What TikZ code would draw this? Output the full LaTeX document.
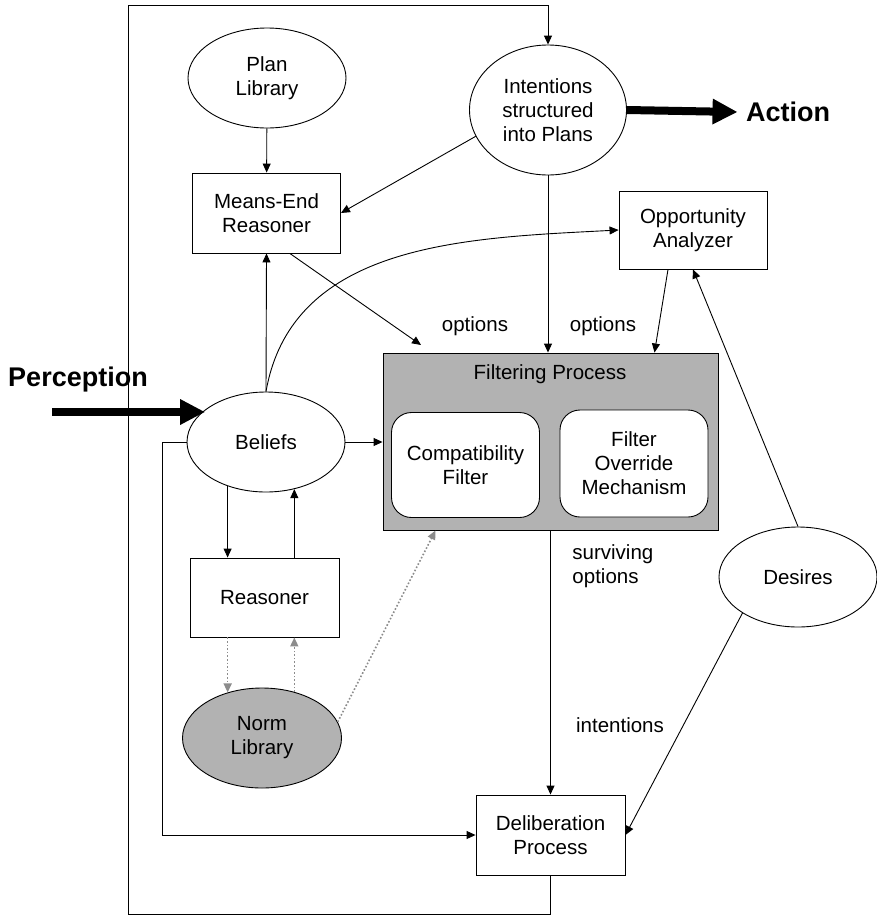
\documentclass[tikz,border=0pt]{standalone}
\usepackage{fontspec}
\setmainfont{Liberation Sans}
\usetikzlibrary{positioning,calc,arrows.meta,shapes.geometric}
\tikzset{font=\fontsize{20.5}{24}\selectfont}

\begin{document}
\begin{tikzpicture}[x=1pt,y=1pt,line width=0.9pt]
	\tikzstyle{every node}=[align=center, inner sep=1pt]
	\tikzstyle{oval}=[draw, ellipse, minimum width=158pt, minimum height=100pt]
	\tikzstyle{box}=[draw, minimum width=148pt, minimum height=79pt]
	\tikzstyle{inbox}=[draw, fill=white, rounded corners=20pt, minimum width=148pt, minimum height=105pt]
	\tikzstyle{arr}=[-{Triangle[length=9pt,width=8pt]}]
	\tikzstyle{big}=[line width=8pt, -{Triangle[length=25pt,width=24pt]}]
	\tikzstyle{dots}=[black!45, line width=1.6pt, dash pattern=on 1.6pt off 2pt, -{Triangle[length=9pt,width=8pt]}]
	\tikzstyle{bold}=[font=\bfseries\fontsize{27}{30}\selectfont]
	\useasboundingbox (0,0) rectangle (877,-916);

	\node[oval] (plib) at (267,-78) {Plan\\Library};
	\node[oval, minimum width=157pt, minimum height=130pt] (intent) at (548,-110) {Intentions\\structured\\into Plans};
	\node[bold, inner sep=8pt] (act) at (788,-112) {Action};
	\node[box, minimum height=80pt] (mer) at (266.5,-213) {Means-End\\Reasoner};
	\node[box, minimum height=78pt] (opp) at (693,-230) {Opportunity\\Analyzer};

	\node[draw, fill=black!30, minimum width=335pt, minimum height=177pt] (filt) at (550.5,-441.5) {};
	\node (ftitle) at (550,-374) {Filtering Process};
	\node[inbox] (compat) at (465.5,-465) {Compatibility\\Filter};
	\node[inbox, minimum height=107pt] (fom) at (634,-463.5) {Filter\\Override\\Mechanism};

	\node[bold] (perc) at (78,-380) {Perception};
	\coordinate (pin) at (52,-412);
	\node[oval] (bel) at (266,-442) {Beliefs};
	\node[box, minimum width=149pt] (reas) at (264.5,-597.5) {Reasoner};
	\node[oval, fill=black!30, minimum width=159pt] (norm) at (262,-738) {Norm\\Library};
	\node[oval] (des) at (798,-577) {Desires};
	\node[box, minimum width=149pt, minimum height=80pt] (delib) at (550.5,-835) {Deliberation\\Process};

	\node (opt1) at (475,-326) {options};
	\node (opt2) at (603,-326) {options};
	\node[anchor=west, align=left] (surv) at (571,-566) {surviving\\options};
	\node (intl) at (620,-725) {intentions};
	\coordinate (optin) at (421,-345);
	\coordinate (ltop) at (128,-5);
	\coordinate (lbot) at (128,-914);

	% top part
	\draw [arr] (plib) -- (mer);
	\draw [arr] (intent.200) -- (mer.east);
	\draw [arr] (intent.south) -- (intent.south |- filt.north);
	\draw [big] (intent.east) -- (act.west);
	\draw [arr] (mer.-60) -- (optin);
	\draw [arr] ([xshift=-25pt]opp.south) -- ([xshift=104pt]filt.north);
	\draw [arr] (des.north) -- (opp.south);

	% beliefs
	\draw [big] (pin) -- (pin -| bel.152);
	\draw [arr] (bel.north) -- (mer.south);
	\draw [arr] (bel.north) to[out=80,in=183] (opp.west);
	\draw [arr] (bel.east) -- (bel.east -| filt.west);
	\draw [arr] (bel.229) -- (bel.229 |- reas.north);
	\draw [arr] (bel.-59 |- reas.north) -- (bel.-59);
	\draw [arr] (bel.west) -- ++(-24,0) |- (delib.west);

	% norms
	\draw [dots] (reas.south -| norm.127) -- (norm.127);
	\draw [dots] (norm.55) -- (norm.55 |- reas.south);
	\draw [dots] (norm.12) -- ([xshift=-115pt]filt.south);

	% deliberation
	\draw [arr] (filt.south) -- (delib.north);
	\draw [arr] (des.213) -- (delib.east);
	\draw [arr] (delib.south) |- (lbot) -- (ltop) -| (intent.north);
\end{tikzpicture}
\end{document}
